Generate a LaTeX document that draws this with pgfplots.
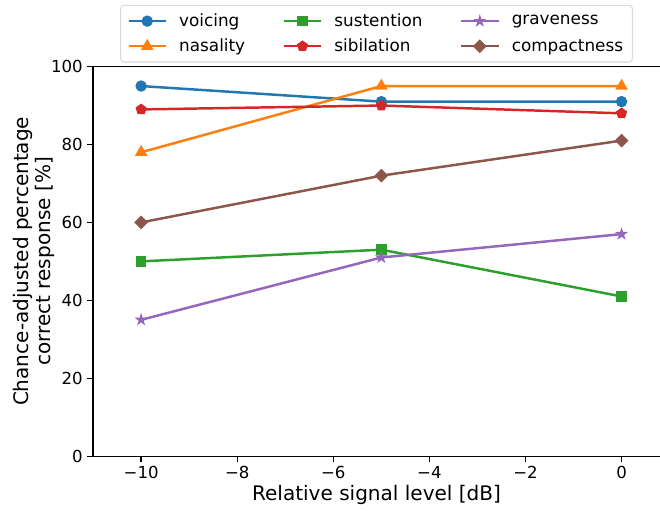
\documentclass[border=0pt]{standalone}
\usepackage{pgfplots}
\pgfplotsset{compat=1.18}
\usepackage{fontspec}
\setmainfont{DejaVu Sans}
\usetikzlibrary{plotmarks}
\definecolor{c0}{HTML}{1F77B4}
\definecolor{c1}{HTML}{FF7F0E}
\definecolor{c2}{HTML}{2CA02C}
\definecolor{c3}{HTML}{D62728}
\definecolor{c4}{HTML}{9467BD}
\definecolor{c5}{HTML}{8C564B}
\pgfdeclareplotmark{fstar}{%
  \pgfpathmoveto{\pgfqpointpolar{90}{\pgfplotmarksize}}%
  \pgfpathlineto{\pgfqpointpolar{126}{0.382\pgfplotmarksize}}%
  \pgfpathlineto{\pgfqpointpolar{162}{\pgfplotmarksize}}%
  \pgfpathlineto{\pgfqpointpolar{198}{0.382\pgfplotmarksize}}%
  \pgfpathlineto{\pgfqpointpolar{234}{\pgfplotmarksize}}%
  \pgfpathlineto{\pgfqpointpolar{270}{0.382\pgfplotmarksize}}%
  \pgfpathlineto{\pgfqpointpolar{306}{\pgfplotmarksize}}%
  \pgfpathlineto{\pgfqpointpolar{342}{0.382\pgfplotmarksize}}%
  \pgfpathlineto{\pgfqpointpolar{18}{\pgfplotmarksize}}%
  \pgfpathlineto{\pgfqpointpolar{54}{0.382\pgfplotmarksize}}%
  \pgfpathclose
  \pgfusepathqfillstroke
}
\begin{document}
\begin{tikzpicture}
\useasboundingbox (-69.7pt,-40.5pt) rectangle (424.5pt,341.6pt);
\begin{axis}[
  at={(0,0)}, anchor=south west,
  scale only axis,
  width=424.5pt, height=291.75pt,
  xmin=-11, xmax=0.8, ymin=0, ymax=100,
  axis x line*=bottom, axis y line*=left,
  axis line style={line width=1pt, -},
  xtick={-10,-8,-6,-4,-2,0},
  xticklabels={−10,−8,−6,−4,−2,0},
  ytick={0,20,40,60,80,100},
  yticklabels={0,20,40,60,80,100},
  tick align=outside,
  major tick length=4.3pt,
  tick style={line width=1pt, black},
  font=\fontsize{12.4}{15}\selectfont,
  xlabel={Relative signal level [dB]},
  ylabel={Chance-adjusted percentage\\correct response [\%]},
  xlabel style={at={(axis description cs:0.5,-0.113)}, anchor=base, font=\fontsize{15}{16.5}\selectfont},
  ylabel style={at={(axis description cs:-0.059,0.5)}, anchor=south, align=center, font=\fontsize{15}{16.5}\selectfont},
  legend columns=3,
  legend cell align=left,
  legend style={at={(0.5,1.0)}, anchor=south, yshift=3pt, draw=black!15, rounded corners=2.5pt,
    fill=white, line width=0.8pt, inner xsep=5pt, inner ysep=4.3pt,
    /tikz/every odd column/.append style={column sep=7pt},
    /tikz/every even column/.append style={column sep=26pt},
    font=\fontsize{12.6}{15}\selectfont, row sep=3.7pt},
  legend image code/.code={
    \draw[mark repeat=2,mark phase=2] plot coordinates {(0pt,0pt) (14pt,0pt) (28pt,0pt)};
  },
  every axis plot/.append style={line width=1.85pt, mark size=3.7pt, mark options={line width=1.1pt}},
]
\addplot[c0, mark=*] coordinates {(-10,95) (-5,91) (0,91)};
\addlegendentry{voicing}
\addplot[c2, mark=square*, mark size=3.4pt] coordinates {(-10,50) (-5,53) (0,41)};
\addlegendentry{sustention}
\addplot[c4, mark=fstar, mark size=3.4pt] coordinates {(-10,35) (-5,51) (0,57)};
\addlegendentry{graveness}
\addplot[c1, mark=triangle*, mark size=4.4pt] coordinates {(-10,78) (-5,95) (0,95)};
\addlegendentry{nasality}
\addplot[c3, mark=pentagon*, mark size=3.7pt] coordinates {(-10,89) (-5,90) (0,88)};
\addlegendentry{sibilation}
\addplot[c5, mark=square*, mark size=3.1pt, mark options={rotate=45, line width=1.1pt}] coordinates {(-10,60) (-5,72) (0,81)};
\addlegendentry{compactness}
\draw[line width=1pt] (rel axis cs:0,1) -- (rel axis cs:1,1);
\end{axis}
\end{tikzpicture}
\end{document}
